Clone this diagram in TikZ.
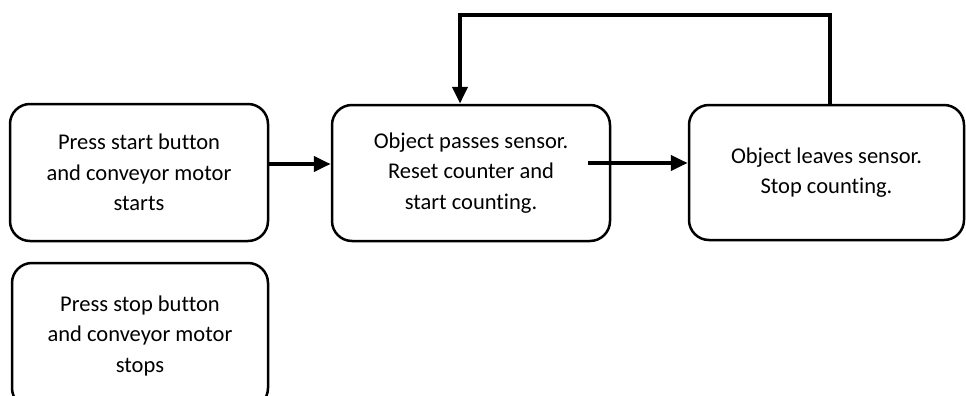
\documentclass[tikz,border=0pt]{standalone}
\usepackage{fontspec}
\setmainfont{Carlito}[Ligatures={NoCommon}]
\usetikzlibrary{arrows.meta}
\begin{document}
\begin{tikzpicture}[x=1pt,y=-1pt,
  box/.style={draw=black, line width=2.5pt, rounded corners=20pt, align=center,
    font=\fontsize{22.5}{30.5}\selectfont, inner sep=0pt},
  conn/.style={draw=black, line width=4.5pt, -{Triangle[length=17pt,width=15pt]}}]
\useasboundingbox (0,0) rectangle (966,396);
\begin{scope}
\clip (0,0) rectangle (966,396);
\node[box, minimum width=258pt, minimum height=137pt] (b1) at (139,172.5) {Press start button\\and conveyor motor\\starts};
\node[box, minimum width=278pt, minimum height=136pt] (b2) at (471,173) {Object passes sensor.\\Reset counter and\\start counting.};
\node[box, minimum width=275pt, minimum height=135pt] (b3) at (826.5,172.5) {Object leaves sensor.\\Stop counting.};
\node[box, minimum width=256pt, minimum height=145pt] (b4) at (140,335.5) {Press stop button\\and conveyor motor\\stops};
\coordinate (s2) at (588,163);
\coordinate (c1) at (830,15);
\coordinate (c2) at (460,15);
\draw[conn] (b1.east |- 0,164) -- (b2.west |- 0,164);
\draw[conn] (s2) -- (b3.west |- s2);
\draw[conn, line cap=rect] (b3.north -| c1) -- (c1) -- (c2) -- (c2 |- b2.north);
\end{scope}
\end{tikzpicture}
\end{document}
